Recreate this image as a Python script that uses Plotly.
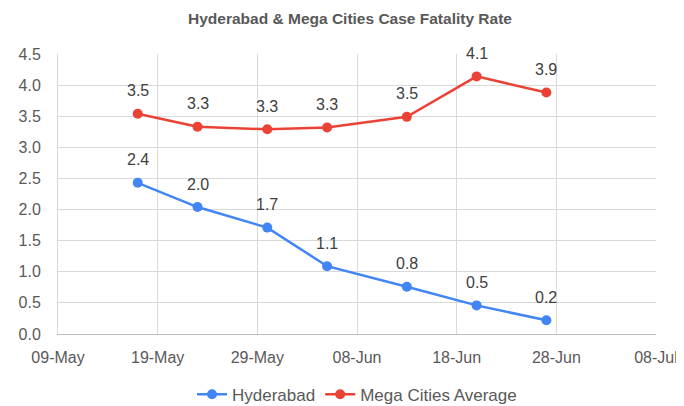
import plotly.graph_objects as go

dates = ["2020-05-17", "2020-05-23", "2020-05-30", "2020-06-05", "2020-06-13", "2020-06-20", "2020-06-27"]
hyderabad = [2.43, 2.04, 1.71, 1.09, 0.76, 0.46, 0.22]
mega_avg = [3.54, 3.33, 3.29, 3.32, 3.49, 4.14, 3.88]
hyd_labels = ["2.4", "2.0", "1.7", "1.1", "0.8", "0.5", "0.2"]
mega_labels = ["3.5", "3.3", "3.3", "3.3", "3.5", "4.1", "3.9"]

BLUE = "#4285F4"
RED = "#EA4335"
FONT = "Liberation Sans, Arial, sans-serif"
TXT = "#595959"

fig = go.Figure()
fig.add_trace(go.Scatter(x=dates, y=hyderabad, name="Hyderabad", mode="lines+markers",
                         line=dict(color=BLUE, width=2.5), marker=dict(color=BLUE, size=10)))
fig.add_trace(go.Scatter(x=dates, y=mega_avg, name="Mega Cities Average", mode="lines+markers",
                         line=dict(color=RED, width=2.5), marker=dict(color=RED, size=10)))

for xs, ys, labs in [(dates, hyderabad, hyd_labels), (dates, mega_avg, mega_labels)]:
    for x, y, t in zip(xs, ys, labs):
        fig.add_annotation(x=x, y=y, text=t, showarrow=False, yshift=23,
                           font=dict(family=FONT, size=16, color="#404040"))

fig.update_layout(
    width=684, height=406,
    margin=dict(l=50, r=36, t=46, b=80, autoexpand=False),
    paper_bgcolor="white", plot_bgcolor="white",
    font=dict(family=FONT, size=16, color=TXT),
    title=dict(text="<b>Hyderabad & Mega Cities Case Fatality Rate</b>", x=0.5, xanchor="center",
               y=0.975, yanchor="middle", font=dict(family=FONT, size=15.5, color=TXT)),
    showlegend=True,
    legend=dict(orientation="h", x=0.5, xanchor="center", y=-0.217, yanchor="middle",
                font=dict(family=FONT, size=17, color=TXT)),
)
fig.update_xaxes(range=["2020-05-09", "2020-07-08"], dtick=10 * 86400000, tick0="2020-05-09",
                 tickformat="%d-%b", showgrid=True, gridcolor="#d9d9d9", gridwidth=1,
                 showline=True, linecolor="#bfbfbf", linewidth=1, zeroline=False,
                 ticks="outside", ticklen=9, tickcolor="rgba(0,0,0,0)",
                 tickfont=dict(size=16, color=TXT))
fig.update_yaxes(range=[0, 4.5], dtick=0.5, tickformat=".1f", showgrid=True, gridcolor="#d9d9d9",
                 gridwidth=1, showline=True, linecolor="#d9d9d9", linewidth=1, zeroline=False,
                 ticks="outside", ticklen=13, tickcolor="rgba(0,0,0,0)",
                 tickfont=dict(size=16, color=TXT))

fig.write_html("out.html")
